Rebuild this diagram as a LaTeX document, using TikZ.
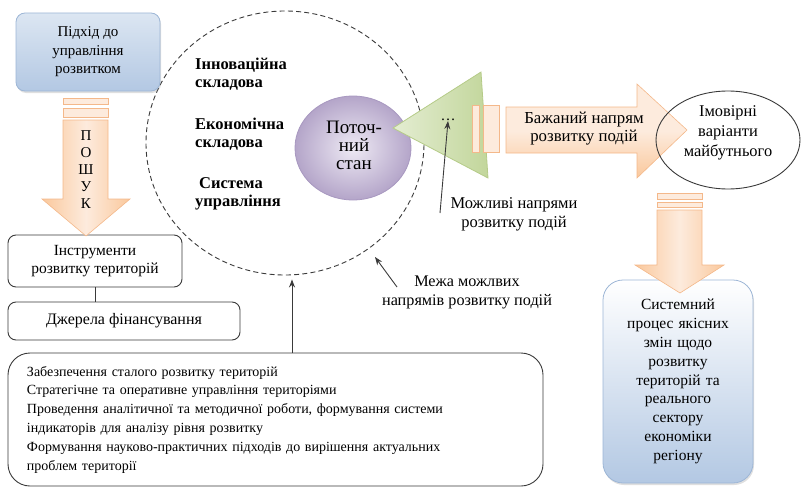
\documentclass[tikz,border=0pt]{standalone}
\usepackage{fontspec}
\setmainfont{LiberationSerif}[Extension=.ttf, UprightFont=*-Regular, BoldFont=*-Bold, ItalicFont=*-Italic, BoldItalicFont=*-BoldItalic]
\usetikzlibrary{shapes.geometric,arrows.meta,shadows,calc}

\definecolor{bluetop}{HTML}{DCE6F2}
\definecolor{bluebot}{HTML}{B3C8E3}
\definecolor{blueline}{HTML}{9DB6D6}
\definecolor{peach}{HTML}{FAC89C}
\definecolor{peachlight}{HTML}{FDEBDD}
\definecolor{peachline}{HTML}{F4B88A}
\definecolor{greenlight}{HTML}{E4EDD2}
\definecolor{greendark}{HTML}{C2D69B}
\definecolor{greenline}{HTML}{B5CB88}
\definecolor{lilaclight}{HTML}{EEEAF4}
\definecolor{lilacdark}{HTML}{B4A5C9}
\definecolor{lilacline}{HTML}{A898C0}
\definecolor{inkgray}{HTML}{3A3A3A}

\newcommand{\fs}[2]{\fontsize{#1}{#2}\selectfont}

\tikzset{
  bluebox/.style={draw=blueline, line width=0.8pt, rounded corners=9pt,
    top color=bluetop, bottom color=bluebot, align=center,
    drop shadow={opacity=0.25, shadow xshift=1pt, shadow yshift=-2pt}},
  plainbox/.style={draw=inkgray, line width=0.9pt, rounded corners=8pt, align=center},
  peachstripe/.style={draw=peachline, line width=0.6pt, fill=peachlight},
  peachvert/.style={draw=peachline, line width=0.6pt, left color=peach, right color=peach, middle color=peachlight},
  peachhoriz/.style={draw=peachline, line width=0.6pt, top color=peachlight, bottom color=peach, middle color=peachlight},
  thinarrow/.style={draw=inkgray, line width=0.9pt, -{Stealth[length=8pt,width=6pt]}},
  label/.style={align=center, inner sep=0pt},
  boldlabel/.style={font=\fs{16.5}{18}\bfseries, align=left, inner sep=0pt, anchor=west}
}

\begin{document}
\begin{tikzpicture}[x=1pt,y=-1pt]
\useasboundingbox (0,0) rectangle (803,487);

% boundary of the possible directions
\node[ellipse, draw=inkgray, line width=0.9pt, dash pattern=on 5pt off 3.2pt,
      minimum width=278pt, minimum height=264pt, inner sep=0pt] (bound) at (285,143) {};

% approach box
\node[bluebox, font=\fs{15}{18.5}, minimum width=144pt, minimum height=78pt] (approach) at (88,52)
  {Підхід до\\управління\\розвитком};

% tools and funding
\node[plainbox, font=\fs{15.5}{18.5}, minimum width=174pt, minimum height=52pt] (tools) at (95,261)
  {Інструменти\\розвитку територій};
\node[plainbox, font=\fs{16}{19}, minimum width=232pt, minimum height=38pt] (funds) at (124,321)
  {Джерела фінансування};
\draw[inkgray, line width=0.9pt] (tools.south) -- (funds.north -| tools.south);

% search arrow
\draw[peachstripe] (63,98) rectangle (108,104);
\draw[peachstripe] (63,108) rectangle (108,117);
\draw[peachvert] (63,120) -- (108,120) -- (108,199) -- (130,199) -- (86,236)
  -- (42,199) -- (63,199) -- cycle;
\node[font=\fs{15}{17}, align=center, inner sep=0pt] (search) at (86,170)
  {П\\О\\Ш\\У\\К};

% components inside the boundary
\node[boldlabel] (innov) at (195,74) {Інноваційна\\складова};
\node[boldlabel] (econ) at (195,134) {Економічна\\складова};
\node[boldlabel] (mgmt) at (195,194) {\hspace{4pt}Система\\управління};

% current state
\node[ellipse, draw=lilacline, line width=0.8pt, shading=radial,
      inner color=lilaclight, outer color=lilacdark,
      minimum width=116pt, minimum height=104pt, inner sep=0pt] (state) at (353,148) {};
\node[font=\fs{19}{18}, align=center, inner sep=0pt] (statetext) at (354,145)
  {Поточ-\\ний\\стан};

% fan of possible directions
\coordinate (tip) at (393,128);
\coordinate (fantop) at (481,72);
\coordinate (fanbot) at (488,178);
\draw[draw=greenline, line width=0.8pt, left color=greenlight, right color=greendark]
  (tip) -- (fantop) -- (fanbot) -- cycle;
\node[font=\fs{15}{18}, inner sep=0pt] (dots) at (448,120) {…};

% desired direction arrow
\draw[peachstripe] (472,105) rectangle (479,152);
\draw[peachstripe] (483,105) rectangle (499,152);
\draw[peachhoriz] (506,107) -- (637,107) -- (637,84) -- (687,130) -- (637,178)
  -- (637,153) -- (506,153) -- cycle;
\node[label, font=\fs{16.8}{18}] (desired) at (584,129) {Бажаний напрям\\розвитку подій};

% probable futures
\node[ellipse, draw=inkgray, line width=0.9pt, minimum width=144pt, minimum height=98pt,
      inner sep=0pt] (future) at (728,140) {};
\node[label, font=\fs{16.4}{20}] (futuretext) at (728,133) {Імовірні\\варіанти\\майбутнього};

% systemic process
\node[bluebox, font=\fs{15.5}{18.8}, top color=white, bottom color=bluebot, rounded corners=20pt,
      minimum width=150pt, minimum height=203pt, text width=140pt] (process) at (678,381.5)
  {Системний\\процес якісних\\змін щодо\\розвитку\\територій та\\реального\\сектору\\економіки\\регіону};

% arrow from futures to process
\draw[peachstripe] (657,193) rectangle (702,199);
\draw[peachstripe] (657,202) rectangle (702,207);
\draw[peachvert] (657,210) -- (702,210) -- (702,265) -- (724,265) -- (680,293)
  -- (635,265) -- (657,265) -- cycle;

% annotations
\node[label, font=\fs{16.5}{19}] (possible) at (514,214) {Можливі напрями\\розвитку подій};
\coordinate (possfoot) at (440,213);
\draw[thinarrow] (possfoot) -- (dots.south);

\node[label, font=\fs{16.2}{19}] (limit) at (467,292) {Межа можлвих\\напрямів розвитку подій};
\coordinate (limfoot) at (397,287);
\coordinate (limhead) at (375,257);
\draw[thinarrow] (limfoot) -- (limhead);

% tasks
\node[draw=inkgray, line width=0.9pt, rounded corners=22pt, minimum width=535pt,
      minimum height=133pt, text width=497pt, inner xsep=19pt, align=left, font=\fs{14}{18.8}]
  (tasks) at (275.5,419.5)
  {Забезпечення сталого розвитку територій\\
   Стратегічне та оперативне управління територіями\\
   Проведення аналітичної та методичної роботи, формування системи\\
   індикаторів для аналізу рівня розвитку\\
   Формування науково-практичних підходів до вирішення актуальних\\
   проблем території};
\coordinate (taskfoot) at (292,353);
\draw[thinarrow, shorten >=4pt] (taskfoot) -- (taskfoot |- bound.south);
\end{tikzpicture}
\end{document}
